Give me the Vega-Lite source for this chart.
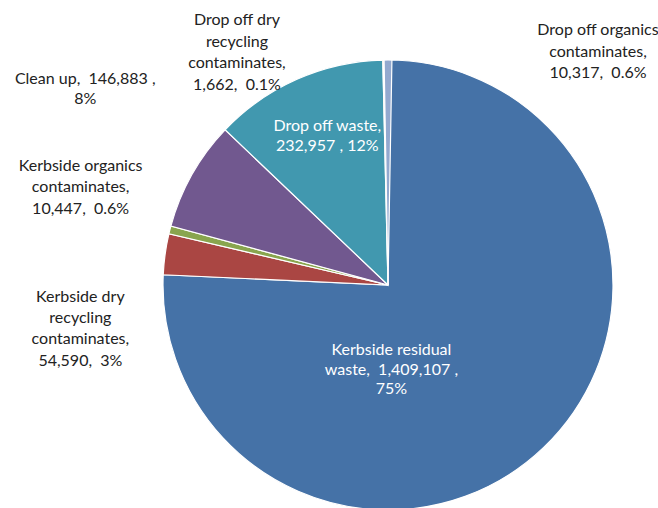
{
  "$schema": "https://vega.github.io/schema/vega-lite/v6.json",
  "width": 658,
  "height": 508,
  "autosize": "none",
  "padding": 0,
  "background": "white",
  "config": {"view": {"stroke": null}, "text": {"font": "Lato", "fontSize": 16}},
  "data": {
    "values": [
      {"name": "Kerbside residual waste", "value": 1409107, "label": "Kerbside residual\nwaste, \u00a01,409,107 ,\n75%"},
      {"name": "Kerbside dry recycling contaminates", "value": 54590, "label": "Kerbside dry\nrecycling\ncontaminates,\n54,590, \u00a03%"},
      {"name": "Kerbside organics contaminates", "value": 10447, "label": "Kerbside organics\ncontaminates,\n10,447, \u00a00.6%"},
      {"name": "Clean up", "value": 146883, "label": "Clean up, \u00a0146,883 ,\n8%"},
      {"name": "Drop off waste", "value": 232957, "label": "Drop off waste,\n232,957 , 12%"},
      {"name": "Drop off dry recycling contaminates", "value": 1662, "label": "Drop off dry\nrecycling\ncontaminates,\n1,662, \u00a00.1%"},
      {"name": "Drop off organics contaminates", "value": 10317, "label": "Drop off organics\ncontaminates,\n10,317, \u00a00.6%"}
    ]
  },
  "transform": [
    {"window": [{"op": "sum", "field": "value", "as": "cum"}], "frame": [null, 0]},
    {"calculate": "datum.cum - datum.value", "as": "start"},
    {"calculate": "datum.cum - datum.value / 2", "as": "mid"}
  ],
  "layer": [
    {
      "mark": {"type": "arc", "x": 388, "y": 285, "outerRadius": 225, "stroke": "white", "strokeWidth": 1.2},
      "encoding": {
        "theta": {"field": "start", "type": "quantitative", "stack": null},
        "theta2": {"field": "cum"},
        "color": {
          "field": "name", "type": "nominal", "legend": null,
          "scale": {
            "domain": ["Kerbside residual waste", "Kerbside dry recycling contaminates", "Kerbside organics contaminates", "Clean up", "Drop off waste", "Drop off dry recycling contaminates", "Drop off organics contaminates"],
            "range": ["#4572A7", "#AA4643", "#89A54E", "#71588F", "#4198AF", "#DB843D", "#93A9CF"]
          }
        }
      }
    },
    {
      "transform": [{"filter": "datum.name == 'Kerbside residual waste'"}],
      "mark": {"type": "text", "x": 388, "y": 285, "radius": 115, "dx": -76, "dy": -18, "lineBreak": "\n", "align": "center", "baseline": "middle", "lineHeight": 19.5, "color": "white"},
      "encoding": {"theta": {"field": "mid", "type": "quantitative", "stack": null}, "text": {"field": "label"}}
    },
    {
      "transform": [{"filter": "datum.name == 'Drop off waste'"}],
      "mark": {"type": "text", "x": 388, "y": 285, "radius": 160, "dx": 4, "dy": -13, "lineBreak": "\n", "align": "center", "baseline": "middle", "lineHeight": 20, "color": "white"},
      "encoding": {"theta": {"field": "mid", "type": "quantitative", "stack": null}, "text": {"field": "label"}}
    },
    {
      "transform": [{"filter": "datum.name == 'Kerbside dry recycling contaminates'"}],
      "mark": {"type": "text", "x": 388, "y": 285, "radius": 250, "dx": -60, "dy": 46, "lineBreak": "\n", "align": "center", "baseline": "middle", "lineHeight": 21.3, "color": "#222222"},
      "encoding": {"theta": {"field": "mid", "type": "quantitative", "stack": null}, "text": {"field": "label"}}
    },
    {
      "transform": [{"filter": "datum.name == 'Kerbside organics contaminates'"}],
      "mark": {"type": "text", "x": 388, "y": 285, "radius": 250, "dx": -65, "dy": -58, "lineBreak": "\n", "align": "center", "baseline": "middle", "lineHeight": 21.5, "color": "#222222"},
      "encoding": {"theta": {"field": "mid", "type": "quantitative", "stack": null}, "text": {"field": "label"}}
    },
    {
      "transform": [{"filter": "datum.name == 'Clean up'"}],
      "mark": {"type": "text", "x": 388, "y": 285, "radius": 250, "dx": -85, "dy": -83, "lineBreak": "\n", "align": "center", "baseline": "middle", "lineHeight": 20, "color": "#222222"},
      "encoding": {"theta": {"field": "mid", "type": "quantitative", "stack": null}, "text": {"field": "label"}}
    },
    {
      "transform": [{"filter": "datum.name == 'Drop off dry recycling contaminates'"}],
      "mark": {"type": "text", "x": 388, "y": 285, "radius": 250, "dx": -146, "dy": -15, "lineBreak": "\n", "align": "center", "baseline": "middle", "lineHeight": 21.7, "color": "#222222"},
      "encoding": {"theta": {"field": "mid", "type": "quantitative", "stack": null}, "text": {"field": "label"}}
    },
    {
      "transform": [{"filter": "datum.name == 'Drop off organics contaminates'"}],
      "mark": {"type": "text", "x": 388, "y": 285, "radius": 250, "dx": 210, "dy": -5, "lineBreak": "\n", "align": "center", "baseline": "middle", "lineHeight": 21.5, "color": "#222222"},
      "encoding": {"theta": {"field": "mid", "type": "quantitative", "stack": null}, "text": {"field": "label"}}
    }
  ]
}
